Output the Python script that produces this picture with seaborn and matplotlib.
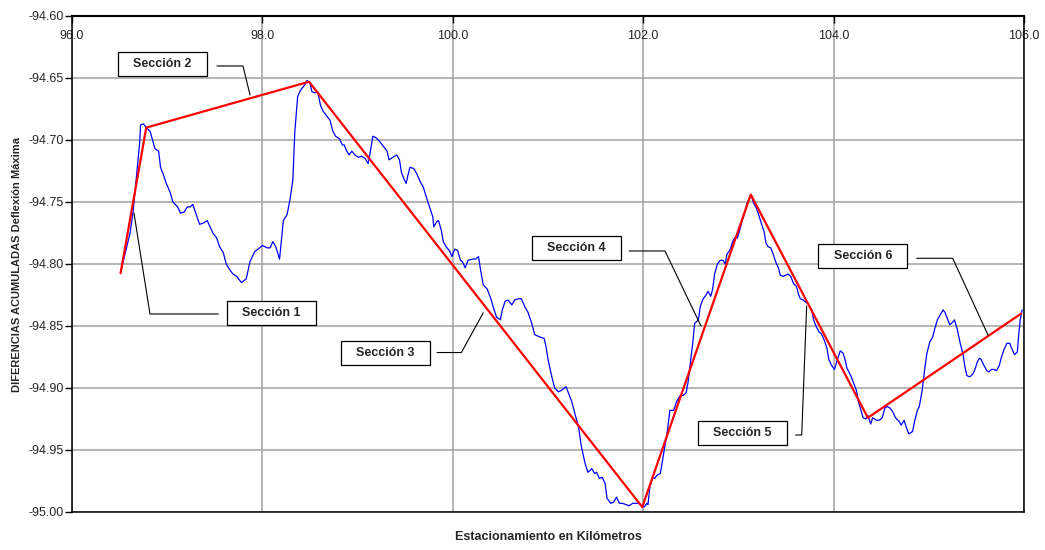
import matplotlib
matplotlib.use("Agg")
import matplotlib.pyplot as plt
import seaborn as sns
import pandas as pd
from matplotlib.patches import Rectangle
from matplotlib.ticker import FormatStrFormatter, MultipleLocator

# Cumulative differences of maximum deflection along the road (km, value)
km = [
    96.51, 96.61, 96.64, 96.68, 96.71, 96.72, 96.75, 96.78, 96.82, 96.85,
    96.87, 96.91, 96.93, 96.96, 96.99, 97.03, 97.06, 97.11, 97.14, 97.18,
    97.21, 97.24, 97.27, 97.30, 97.34, 97.38, 97.42, 97.45, 97.48, 97.52,
    97.55, 97.59, 97.62, 97.66, 97.69, 97.73, 97.78, 97.83, 97.87, 97.92,
    97.97, 98.00, 98.05, 98.08, 98.11, 98.14, 98.18, 98.22, 98.26, 98.29,
    98.32, 98.34, 98.37, 98.40, 98.44, 98.47, 98.50, 98.52, 98.55, 98.58,
    98.61, 98.64, 98.68, 98.71, 98.74, 98.77, 98.81, 98.84, 98.86, 98.88,
    98.91, 98.94, 98.97, 99.01, 99.04, 99.08, 99.11, 99.13, 99.16, 99.19,
    99.23, 99.27, 99.31, 99.33, 99.37, 99.41, 99.44, 99.46, 99.49, 99.51,
    99.53, 99.55, 99.59, 99.62, 99.66, 99.69, 99.73, 99.76, 99.79, 99.80,
    99.83, 99.85, 99.88, 99.90, 99.93, 99.97, 99.99, 100.02, 100.05, 100.08,
    100.10, 100.13, 100.16, 100.21, 100.24, 100.27, 100.29, 100.32, 100.36, 100.40,
    100.43, 100.46, 100.50, 100.52, 100.55, 100.58, 100.62, 100.65, 100.69, 100.72,
    100.76, 100.79, 100.83, 100.86, 100.92, 100.96, 100.98, 101.00, 101.04, 101.07,
    101.11, 101.14, 101.17, 101.19, 101.21, 101.25, 101.28, 101.32, 101.35, 101.39,
    101.42, 101.46, 101.49, 101.51, 101.54, 101.57, 101.60, 101.62, 101.66, 101.69,
    101.72, 101.75, 101.78, 101.82, 101.85, 101.89, 101.92, 101.96, 101.98, 102.01,
    102.04, 102.05, 102.07, 102.10, 102.12, 102.15, 102.18, 102.21, 102.25, 102.28,
    102.32, 102.35, 102.39, 102.42, 102.45, 102.47, 102.49, 102.52, 102.54, 102.58,
    102.60, 102.63, 102.66, 102.68, 102.71, 102.73, 102.75, 102.78, 102.81, 102.84,
    102.86, 102.88, 102.91, 102.94, 102.96, 102.99, 103.02, 103.04, 103.07, 103.09,
    103.12, 103.14, 103.16, 103.19, 103.22, 103.24, 103.27, 103.29, 103.31, 103.34,
    103.37, 103.39, 103.42, 103.44, 103.47, 103.50, 103.52, 103.55, 103.58, 103.61,
    103.63, 103.65, 103.68, 103.71, 103.73, 103.77, 103.79, 103.82, 103.85, 103.87,
    103.90, 103.93, 103.95, 103.98, 104.01, 104.04, 104.07, 104.10, 104.12, 104.14,
    104.18, 104.21, 104.24, 104.26, 104.28, 104.31, 104.34, 104.36, 104.39, 104.41,
    104.45, 104.48, 104.51, 104.54, 104.56, 104.59, 104.62, 104.65, 104.69, 104.71,
    104.74, 104.77, 104.79, 104.83, 104.85, 104.88, 104.90, 104.93, 104.96, 104.98,
    105.01, 105.04, 105.06, 105.09, 105.12, 105.15, 105.17, 105.19, 105.22, 105.25,
    105.27, 105.30, 105.33, 105.36, 105.38, 105.40, 105.43, 105.46, 105.48, 105.51,
    105.53, 105.55, 105.58, 105.61, 105.63, 105.66, 105.68, 105.71, 105.74, 105.76,
    105.79, 105.82, 105.85, 105.87, 105.90, 105.93, 105.94, 105.96, 105.98,
]
diff = [
    -94.807, -94.775, -94.759, -94.727, -94.703, -94.688, -94.687, -94.690, -94.693, -94.701,
    -94.707, -94.709, -94.722, -94.728, -94.735, -94.742, -94.750, -94.754, -94.759, -94.758,
    -94.754, -94.754, -94.752, -94.759, -94.768, -94.767, -94.765, -94.770, -94.775, -94.779,
    -94.786, -94.791, -94.800, -94.805, -94.808, -94.810, -94.815, -94.812, -94.798, -94.790,
    -94.787, -94.785, -94.787, -94.787, -94.782, -94.786, -94.796, -94.765, -94.760, -94.748,
    -94.732, -94.694, -94.665, -94.660, -94.656, -94.652, -94.654, -94.661, -94.662, -94.661,
    -94.672, -94.677, -94.681, -94.684, -94.693, -94.697, -94.699, -94.704, -94.704, -94.708,
    -94.712, -94.709, -94.712, -94.714, -94.713, -94.715, -94.719, -94.711, -94.697, -94.698,
    -94.701, -94.705, -94.709, -94.716, -94.714, -94.712, -94.716, -94.726, -94.732, -94.735,
    -94.728, -94.722, -94.723, -94.727, -94.734, -94.738, -94.748, -94.755, -94.762, -94.770,
    -94.766, -94.765, -94.773, -94.782, -94.786, -94.790, -94.794, -94.788, -94.789, -94.797,
    -94.798, -94.803, -94.797, -94.796, -94.796, -94.794, -94.804, -94.817, -94.820, -94.828,
    -94.836, -94.843, -94.845, -94.837, -94.830, -94.829, -94.833, -94.829, -94.828, -94.828,
    -94.835, -94.839, -94.848, -94.857, -94.859, -94.860, -94.867, -94.877, -94.891, -94.900,
    -94.903, -94.902, -94.900, -94.899, -94.903, -94.911, -94.920, -94.931, -94.947, -94.961,
    -94.968, -94.965, -94.969, -94.968, -94.973, -94.972, -94.977, -94.989, -94.993, -94.992,
    -94.988, -94.993, -94.993, -94.994, -94.995, -94.993, -94.993, -94.993, -94.995, -94.996,
    -94.993, -94.994, -94.980, -94.972, -94.973, -94.970, -94.969, -94.955, -94.937, -94.918,
    -94.918, -94.911, -94.906, -94.906, -94.904, -94.896, -94.883, -94.864, -94.848, -94.845,
    -94.834, -94.828, -94.825, -94.822, -94.826, -94.820, -94.808, -94.800, -94.797, -94.797,
    -94.800, -94.792, -94.789, -94.782, -94.779, -94.779, -94.771, -94.765, -94.758, -94.751,
    -94.746, -94.746, -94.751, -94.755, -94.762, -94.767, -94.774, -94.783, -94.786, -94.787,
    -94.793, -94.798, -94.803, -94.809, -94.810, -94.809, -94.808, -94.810, -94.816, -94.818,
    -94.824, -94.828, -94.829, -94.831, -94.832, -94.837, -94.845, -94.851, -94.855, -94.856,
    -94.861, -94.868, -94.877, -94.882, -94.885, -94.877, -94.870, -94.872, -94.877, -94.884,
    -94.890, -94.896, -94.902, -94.911, -94.916, -94.924, -94.925, -94.922, -94.929, -94.924,
    -94.926, -94.926, -94.924, -94.916, -94.915, -94.916, -94.919, -94.924, -94.927, -94.930,
    -94.926, -94.933, -94.937, -94.935, -94.927, -94.918, -94.915, -94.902, -94.883, -94.872,
    -94.863, -94.859, -94.853, -94.845, -94.841, -94.837, -94.839, -94.843, -94.849, -94.847,
    -94.845, -94.853, -94.864, -94.873, -94.883, -94.890, -94.891, -94.889, -94.886, -94.879,
    -94.876, -94.877, -94.882, -94.886, -94.887, -94.885, -94.885, -94.886, -94.882, -94.876,
    -94.869, -94.864, -94.864, -94.868, -94.873, -94.871, -94.861, -94.845, -94.837,
]

# Homogeneous section breakpoints
section_km = [96.51, 96.78, 98.49, 101.99, 103.13, 104.36, 105.97]
section_val = [-94.8075, -94.690, -94.653, -94.996, -94.744, -94.924, -94.840]

section_labels = ["Sección 1", "Sección 2", "Sección 3",
                  "Sección 4", "Sección 5", "Sección 6"]
x_ticks = [96.0, 98.0, 100.0, 102.0, 104.0, 106.0]

# Label boxes (centre in data units) and leader lines: start, elbow, end
box_center = [(98.093, -94.8395), (96.951, -94.6390), (99.290, -94.8716),
              (101.296, -94.7871), (103.038, -94.9363), (104.307, -94.7935)]
leader_x = [(97.537, 96.819, 96.651), (97.523, 97.796, 97.870),
            (99.834, 100.090, 100.320), (101.854, 102.229, 102.607),
            (103.602, 103.665, 103.717), (104.873, 105.251, 105.625)]
leader_y = [(-94.8403, -94.8403, -94.7589), (-94.6403, -94.6403, -94.6637),
            (-94.8714, -94.8714, -94.8393), (-94.7895, -94.7895, -94.8500),
            (-94.9379, -94.9379, -94.8339), (-94.7954, -94.7954, -94.8578)]
BOX_W, BOX_H = 0.935, 0.0195

sns.set_style("white")
plt.rcParams["font.family"] = ["Liberation Sans", "DejaVu Sans"]

fig = plt.figure(figsize=(10.45, 5.5), dpi=100)
ax = fig.add_axes([72 / 1045, 1 - 512 / 550, (1024 - 72) / 1045, (512 - 16) / 550])

data = pd.DataFrame({"km": km, "diff": diff})
sections = pd.DataFrame({"km": section_km, "diff": section_val})

sns.lineplot(data=data, x="km", y="diff", ax=ax, color="#0000FF", lw=0.9,
             sort=False, estimator=None, zorder=3)
sns.lineplot(data=sections, x="km", y="diff", ax=ax, color="#FF0000", lw=1.6,
             sort=False, estimator=None, zorder=4)

ax.set_xlim(96.0, 106.0)
ax.set_ylim(-95.0, -94.6)
ax.set_xticks(x_ticks)
ax.yaxis.set_major_locator(MultipleLocator(0.05))
ax.xaxis.set_major_formatter(FormatStrFormatter("%.1f"))
ax.yaxis.set_major_formatter(FormatStrFormatter("%.2f"))

ax.grid(True, color="#a0a0a0", lw=1.1, zorder=0)
ax.set_axisbelow(True)

ax.xaxis.tick_top()
ax.xaxis.set_label_position("bottom")
ax.tick_params(axis="x", direction="in", length=5, width=1, color="black",
               pad=-19, labelsize=9)
ax.tick_params(axis="y", direction="out", length=5, width=1, color="black",
               pad=1, labelsize=9, left=True)

for side in ("top", "bottom", "left", "right"):
    ax.spines[side].set_visible(True)
    ax.spines[side].set_color("black")
    ax.spines[side].set_linewidth(1.1)
ax.spines["top"].set_linewidth(1.5)

ax.set_xlabel("Estacionamiento en Kilómetros", fontsize=9, fontweight="bold",
              labelpad=14)
ax.set_ylabel("DIFERENCIAS ACUMULADAS Deflexión Máxima", fontsize=8,
              fontweight="bold", labelpad=4.5)

for label, (cx, cy), lx, ly in zip(section_labels, box_center, leader_x, leader_y):
    ax.plot(lx, ly, color="black", lw=0.8, zorder=5)
    ax.add_patch(Rectangle((cx - BOX_W / 2, cy - BOX_H / 2), BOX_W, BOX_H,
                           facecolor="white", edgecolor="black", lw=0.9, zorder=6))
    ax.text(cx, cy, label, ha="center", va="center", fontsize=9,
            fontweight="bold", zorder=7)

fig.savefig("out.png", dpi=100, facecolor="white")
